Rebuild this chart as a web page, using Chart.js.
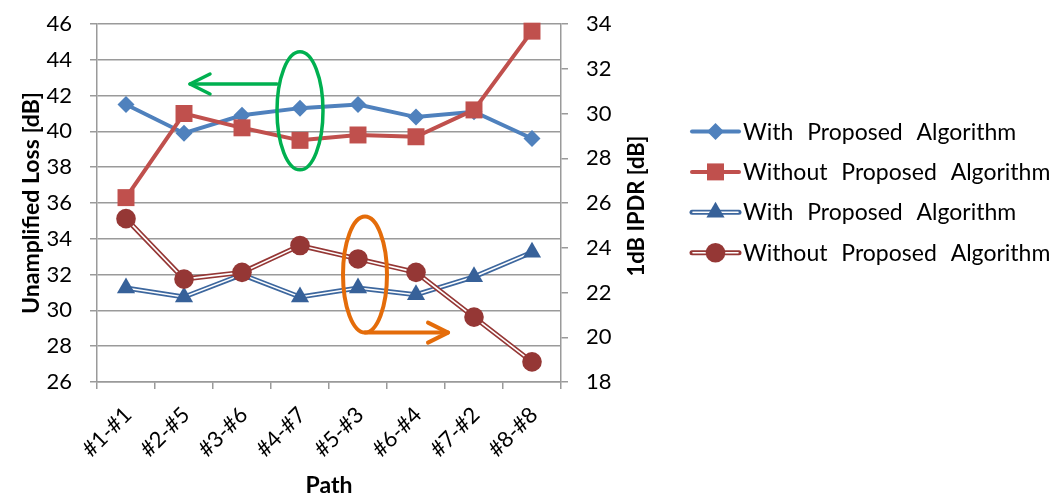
<!DOCTYPE html>
<html>
<head>
<meta charset="utf-8">
<title>Unamplified Loss and 1dB IPDR per Path</title>
<script src="https://cdn.jsdelivr.net/npm/chart.js@4.4.1/dist/chart.umd.min.js"></script>
<style>
  html, body { margin: 0; padding: 0; background: #ffffff; }
  canvas { display: block; }
</style>
</head>
<body>
<canvas id="chart" width="1061" height="495"></canvas>
<script>
// Paths (input port - output port)
const paths = ['#1-#1', '#2-#5', '#3-#6', '#4-#7', '#5-#3', '#6-#4', '#7-#2', '#8-#8'];

// Unamplified loss [dB] (left axis)
const lossWith    = [41.5, 39.9, 40.9, 41.3, 41.5, 40.8, 41.1, 39.6];
const lossWithout = [36.3, 41.0, 40.2, 39.5, 39.8, 39.7, 41.2, 45.6];

// 1dB IPDR [dB] (right axis)
const ipdrWith    = [22.2, 21.8, 22.8, 21.8, 22.2, 21.9, 22.7, 23.8];
const ipdrWithout = [25.3, 22.6, 22.9, 24.1, 23.5, 22.9, 20.9, 18.9];

// Axis tick labels
const lossTicks = [26, 28, 30, 32, 34, 36, 38, 40, 42, 44, 46];
const ipdrTicks = [18, 20, 22, 24, 26, 28, 30, 32, 34];

// Legend texts
const seriesNames = [
  'With Proposed Algorithm',
  'Without Proposed Algorithm',
  'With Proposed Algorithm',
  'Without Proposed Algorithm'
];

const FONT = 'Lato, Carlito, Calibri, "Noto Sans", sans-serif';
const GRID = '#9a9a9a';
const TEXT = '#000000';

Chart.defaults.font.family = FONT;
Chart.defaults.font.size = 22;
Chart.defaults.color = TEXT;

// Draws the path shape of a marker (used for the side legend)
function markerPath(ctx, style, x, y, r) {
  ctx.beginPath();
  if (style === 'rectRot') {
    ctx.moveTo(x, y - r); ctx.lineTo(x + r, y); ctx.lineTo(x, y + r); ctx.lineTo(x - r, y);
  } else if (style === 'rect') {
    const s = r * Math.SQRT1_2;
    ctx.rect(x - s, y - s, 2 * s, 2 * s);
  } else if (style === 'triangle') {
    ctx.moveTo(x, y - r);
    ctx.lineTo(x + r * Math.sin(Math.PI * 2 / 3), y - r * Math.cos(Math.PI * 2 / 3));
    ctx.lineTo(x + r * Math.sin(Math.PI * 4 / 3), y - r * Math.cos(Math.PI * 4 / 3));
  } else {
    ctx.arc(x, y, r, 0, Math.PI * 2);
  }
  ctx.closePath();
}

// Double-line series: a wide coloured stroke under the dataset's thin white line
const doubleLine = {
  id: 'doubleLine',
  beforeDatasetDraw(chart, args) {
    const ds = chart.data.datasets[args.index];
    if (!ds.outlineColor) return;
    const pts = args.meta.data;
    const ctx = chart.ctx;
    ctx.save();
    ctx.strokeStyle = ds.outlineColor;
    ctx.lineWidth = ds.outlineWidth;
    ctx.lineJoin = 'miter';
    ctx.beginPath();
    pts.forEach((p, i) => { if (i === 0) ctx.moveTo(p.x, p.y); else ctx.lineTo(p.x, p.y); });
    ctx.stroke();
    ctx.restore();
  }
};

// Ellipses with arrows pointing to each series group's axis
const axisHints = {
  id: 'axisHints',
  afterDatasetsDraw(chart) {
    const { ctx, scales } = chart;
    const x = scales.x, yL = scales.yL, yR = scales.yR;

    const arrowHead = (tx, ty, dir) => {
      ctx.beginPath();
      ctx.moveTo(tx - dir * 20, ty - 10);
      ctx.lineTo(tx, ty);
      ctx.lineTo(tx - dir * 20, ty + 10);
      ctx.stroke();
    };

    ctx.save();
    ctx.lineCap = 'round';
    ctx.lineJoin = 'round';

    // green: loss curves -> left axis
    const gx = x.getPixelForValue(3), gy = yL.getPixelForValue(41.15);
    ctx.strokeStyle = '#00B050';
    ctx.lineWidth = 3.5;
    ctx.beginPath();
    ctx.ellipse(gx, gy, 23, 59, 0, 0, Math.PI * 2);
    ctx.stroke();
    const ay = yL.getPixelForValue(42.65);
    const tipL = x.getPixelForValue(1) + 6;
    ctx.beginPath();
    ctx.moveTo(gx - 23, ay);
    ctx.lineTo(tipL, ay);
    ctx.stroke();
    arrowHead(tipL, ay, -1);

    // orange: IPDR curves -> right axis
    const ox = x.getPixelForValue(4) + 7, oy = yR.getPixelForValue(22.8);
    ctx.strokeStyle = '#E46C0A';
    ctx.lineWidth = 4;
    ctx.beginPath();
    ctx.ellipse(ox, oy, 22, 58, 0, 0, Math.PI * 2);
    ctx.stroke();
    const by = oy + 58;
    const tipR = x.getPixelForValue(5) + 32;
    ctx.beginPath();
    ctx.moveTo(ox, by);
    ctx.lineTo(tipR, by);
    ctx.stroke();
    arrowHead(tipR, by, 1);
    ctx.restore();
  }
};

// Right axis title (reads bottom to top) and the side legend
const sideItems = {
  id: 'sideItems',
  afterDraw(chart) {
    const { ctx, chartArea, scales } = chart;
    ctx.save();

    // right axis title
    ctx.font = 'bold 22px ' + FONT;
    ctx.fillStyle = TEXT;
    ctx.textAlign = 'center';
    ctx.textBaseline = 'middle';
    ctx.translate(scales.yR.right - 4, (chartArea.top + chartArea.bottom) / 2 + 3);
    ctx.rotate(-Math.PI / 2);
    ctx.fillText('1dB IPDR [dB]', 0, 0);
    ctx.setTransform(1, 0, 0, 1, 0, 0);

    // legend
    const x0 = 692, x1 = 739, top = 131.5, step = 40.4;
    chart.data.datasets.forEach((ds, i) => {
      const y = top + i * step;
      const xm = (x0 + x1) / 2;
      ctx.lineCap = 'round';
      if (ds.outlineColor) {
        ctx.strokeStyle = ds.outlineColor;
        ctx.lineWidth = ds.outlineWidth;
        ctx.beginPath(); ctx.moveTo(x0, y); ctx.lineTo(x1, y); ctx.stroke();
        ctx.strokeStyle = ds.borderColor;
        ctx.lineWidth = ds.borderWidth;
        ctx.beginPath(); ctx.moveTo(x0 + 1, y); ctx.lineTo(x1 - 1, y); ctx.stroke();
      } else {
        ctx.strokeStyle = ds.borderColor;
        ctx.lineWidth = ds.borderWidth;
        ctx.beginPath(); ctx.moveTo(x0, y); ctx.lineTo(x1, y); ctx.stroke();
      }
      ctx.fillStyle = ds.pointBackgroundColor;
      markerPath(ctx, ds.pointStyle, xm, y, ds.pointRadius);
      ctx.fill();

      ctx.fillStyle = TEXT;
      ctx.font = '23px ' + FONT;
      if ('wordSpacing' in ctx) ctx.wordSpacing = '8px';
      ctx.textAlign = 'left';
      ctx.textBaseline = 'alphabetic';
      ctx.fillText(seriesNames[i], 743, y + 8);
    });
    ctx.restore();
  }
};

// Keep the plot box fixed: no extra label overhang padding on the value axes
function fixVertical(width) {
  return function (scale) {
    scale.width = width;
    scale.paddingTop = 0;
    scale.paddingBottom = 0;
  };
}

new Chart(document.getElementById('chart'), {
  type: 'line',
  data: {
    labels: paths,
    datasets: [
      {
        label: seriesNames[0], data: lossWith, yAxisID: 'yL', order: 4,
        borderColor: '#4F81BD', borderWidth: 4,
        pointStyle: 'rectRot', pointRadius: 8.5, pointBorderWidth: 0,
        pointBackgroundColor: '#4F81BD'
      },
      {
        label: seriesNames[1], data: lossWithout, yAxisID: 'yL', order: 3,
        borderColor: '#C0504D', borderWidth: 4,
        pointStyle: 'rect', pointRadius: 12, pointBorderWidth: 0,
        pointBackgroundColor: '#C0504D'
      },
      {
        label: seriesNames[2], data: ipdrWith, yAxisID: 'yR', order: 2,
        borderColor: '#ffffff', borderWidth: 1.6,
        outlineColor: '#3D679E', outlineWidth: 5,
        pointStyle: 'triangle', pointRadius: 10.5, pointBorderWidth: 0,
        pointBackgroundColor: '#376199'
      },
      {
        label: seriesNames[3], data: ipdrWithout, yAxisID: 'yR', order: 1,
        borderColor: '#ffffff', borderWidth: 1.6,
        outlineColor: '#953735', outlineWidth: 5,
        pointStyle: 'circle', pointRadius: 9.8, pointBorderWidth: 0,
        pointBackgroundColor: '#953735'
      }
    ]
  },
  options: {
    responsive: false,
    animation: false,
    devicePixelRatio: 1,
    clip: false,
    elements: { line: { tension: 0, fill: false } },
    layout: { padding: { left: 0, right: 420, top: 24, bottom: 0 } },
    plugins: { legend: { display: false }, tooltip: { enabled: false } },
    scales: {
      x: {
        offset: true,
        grid: { offset: true, drawOnChartArea: false, drawTicks: true, tickLength: 7, color: GRID, lineWidth: 1.5 },
        border: { color: GRID, width: 1.5 },
        ticks: { minRotation: 45, maxRotation: 45, autoSkip: false, padding: 13, labelOffset: 2, color: TEXT, font: { size: 22 } },
        title: { display: true, text: 'Path', color: TEXT, font: { size: 23, weight: 'bold' }, padding: { top: 0, bottom: -4 } },
        afterFit(scale) { scale.height = 113; }
      },
      yL: {
        position: 'left',
        min: lossTicks[0], max: lossTicks[lossTicks.length - 1],
        afterBuildTicks(scale) { scale.ticks = lossTicks.map(v => ({ value: v })); },
        grid: { color: GRID, lineWidth: 1.5, tickLength: 7 },
        border: { color: GRID, width: 1.5 },
        ticks: { padding: 18, color: TEXT, font: { size: 22 } },
        title: { display: true, text: 'Unamplified Loss [dB]', color: TEXT, font: { size: 23, weight: 'bold' }, padding: { top: 18, bottom: 0 } },
        afterFit: fixVertical(97)
      },
      yR: {
        position: 'right',
        min: ipdrTicks[0], max: ipdrTicks[ipdrTicks.length - 1],
        afterBuildTicks(scale) { scale.ticks = ipdrTicks.map(v => ({ value: v })); },
        grid: { drawOnChartArea: false, color: GRID, lineWidth: 1.5, tickLength: 7 },
        border: { color: GRID, width: 1.5 },
        ticks: { padding: 18, color: TEXT, font: { size: 22 } },
        afterFit: fixVertical(80)
      }
    }
  },
  plugins: [doubleLine, axisHints, sideItems]
});
</script>
</body>
</html>
